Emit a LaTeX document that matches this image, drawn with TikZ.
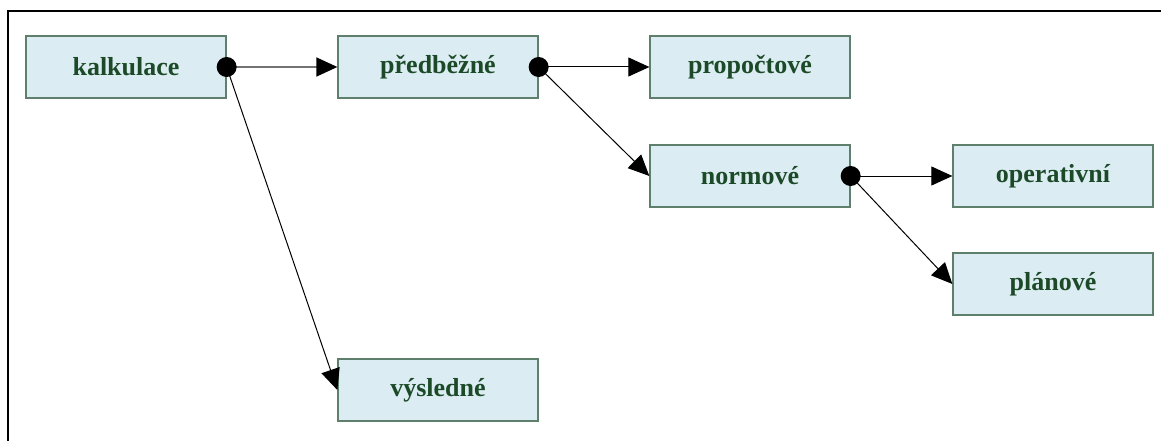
\documentclass[tikz,border=0pt]{standalone}
\usepackage{fontspec}
\setmainfont{Liberation Serif}
\usetikzlibrary{arrows.meta}
\definecolor{boxfill}{HTML}{DBEDF2}
\definecolor{boxdraw}{HTML}{5E7F6C}
\definecolor{txt}{HTML}{1C4A28}
\tikzset{
  box/.style={draw=boxdraw, line width=1.3pt, fill=boxfill, minimum width=200pt, minimum height=62pt, inner sep=0pt, font=\fontsize{26}{30}\selectfont\bfseries, text=txt},
  conn/.style={line width=1pt, -{Triangle[length=21pt,width=19pt,color=black]}},
  dotc/.style={circle, fill=black, minimum size=20pt, inner sep=0pt}
}
\begin{document}
\begin{tikzpicture}[x=1pt,y=-1pt]
\useasboundingbox (0,0) rectangle (1161,441);
\draw[line width=2.2pt] (8,441) -- (8,11) -- (1161,11);
\node[box] (kal) at (126,67) {kalkulace};
\node[box] (pre) at (438,67) {předběžné};
\node[box] (pro) at (750,67) {propočtové};
\node[box] (nor) at (750,176) {normové};
\node[box] (ope) at (1053,176) {operativní};
\node[box] (pla) at (1053,284) {plánové};
\node[box] (vys) at (438,390) {výsledné};
\draw[conn, draw=black!55, line width=1.5pt] (kal.east) -- (pre.west);
\draw[conn] (kal.east) -- (vys.west);
\draw[conn] (pre.east) -- (pro.west);
\draw[conn] (pre.east) -- (nor.west);
\draw[conn] (nor.east) -- (ope.west);
\draw[conn] (nor.east) -- (pla.west);
\node[dotc] (d1) at (kal.east) {};
\node[dotc] (d2) at (pre.east) {};
\node[dotc] (d3) at (nor.east) {};
\end{tikzpicture}
\end{document}
